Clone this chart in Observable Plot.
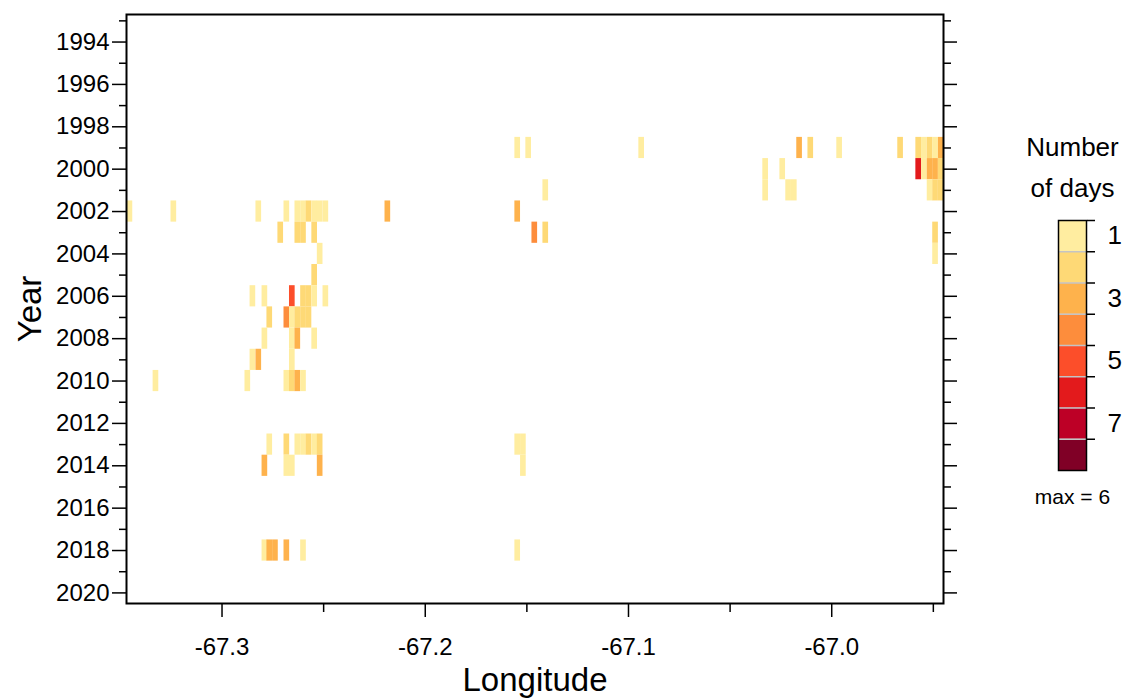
<!DOCTYPE html>
<html><head><meta charset="utf-8">
<script src="https://cdn.jsdelivr.net/npm/d3@7"></script>
<script src="https://cdn.jsdelivr.net/npm/@observablehq/plot@0.6"></script>
<style>
html,body{margin:0;padding:0;background:#fff;}
#wrap{position:relative;width:1124px;height:700px;}
#main{position:absolute;left:0;top:0;}
#legend{position:absolute;left:1000px;top:120px;}
</style></head>
<body><div id="wrap"><div id="main"></div><div id="legend"></div></div>
<script>
// ---- data ----
const yearTicks = [1994,1996,1998,2000,2002,2004,2006,2008,2010,2012,2014,2016,2018,2020];
const yearMinorTicks = [1993,1995,1997,1999,2001,2003,2005,2007,2009,2011,2013,2015,2017,2019];
const lonTicks = [-67.3,-67.2,-67.1,-67.0];
const lonMinorTicks = [-67.25,-67.15,-67.05,-66.95];
const binWidth = 0.00278; // longitude bin size (degrees)

const cellYear = [
  1999,1999,1999,1999,1999,1999,1999,1999,1999,1999,1999,1999,
  2000,2000,2000,2000,2000,2000,2000,
  2001,2001,2001,2001,2001,2001,2001,
  2002,2002,2002,2002,2002,2002,2002,2002,2002,2002,2002,2002,
  2003,2003,2003,2003,2003,2003,2003,
  2004,2004,
  2005,
  2006,2006,2006,2006,2006,2006,2006,
  2007,2007,2007,2007,2007,2007,
  2008,2008,2008,2008,
  2009,2009,2009,
  2010,2010,2010,2010,2010,2010,
  2013,2013,2013,2013,2013,2013,2013,2013,2013,
  2014,2014,2014,2014,2014,
  2018,2018,2018,2018,2018,2018
];
const cellLon = [
  -67.1559,-67.1505,-67.0949,-67.0172,-67.0117,-66.9975,-66.9675,-66.9586,-66.9558,-66.9530,-66.9503,-66.9475,
  -67.0339,-67.0255,-66.9586,-66.9558,-66.9530,-66.9503,-66.9475,
  -67.1421,-67.0339,-67.0226,-67.0198,-66.9530,-66.9503,-66.9475,
  -67.3467,-67.3251,-67.2833,-67.2695,-67.2641,-67.2613,-67.2586,-67.2558,-67.2531,-67.2503,-67.2198,-67.1559,
  -67.2725,-67.2641,-67.2613,-67.2558,-67.1475,-67.1421,-66.9503,
  -67.2531,-66.9503,
  -67.2558,
  -67.2862,-67.2803,-67.2668,-67.2613,-67.2586,-67.2558,-67.2503,
  -67.2779,-67.2695,-67.2668,-67.2641,-67.2613,-67.2586,
  -67.2803,-67.2668,-67.2641,-67.2558,
  -67.2862,-67.2833,-67.2668,
  -67.3339,-67.2887,-67.2695,-67.2668,-67.2641,-67.2613,
  -67.2779,-67.2695,-67.2641,-67.2613,-67.2586,-67.2558,-67.2531,-67.1559,-67.1531,
  -67.2803,-67.2695,-67.2668,-67.2531,-67.1531,
  -67.2803,-67.2779,-67.2751,-67.2695,-67.2613,-67.1559
];
const cellDays = [
  1,1,1,3,2,1,2,2,1,2,1,3,
  1,1,6,1,3,3,2,
  1,1,1,1,1,2,2,
  1,1,1,1,1,1,2,1,1,1,3,3,
  2,2,2,2,4,2,2,
  1,1,
  2,
  1,1,5,2,2,1,1,
  2,4,1,2,2,2,
  1,1,3,1,
  1,3,1,
  1,1,1,2,3,1,
  1,2,1,1,2,1,2,1,1,
  3,1,1,3,1,
  1,3,3,3,1,1
];

const dayLevels = [1,2,3,4,5,6,7,8];
const dayColors = ["#ffeda0","#fed976","#feb24c","#fd8d3c","#fc4e2a","#e31a1c","#bd0026","#800026"];
const dayLabels = [1,3,5,7];
const dayBoundaries = [0.5,1.5,2.5,3.5,4.5,5.5,6.5,7.5];
const dayInnerBoundaries = [1.5,2.5,3.5,4.5,5.5,6.5,7.5];
const legendTitle = ["Number","of days"];
const legendNote = "max = 6";

// ---- chart ----
const font = '"Liberation Sans", Arial, Helvetica, sans-serif';
const cells = cellYear.map((y, i) => ({year: y, lon: cellLon[i], days: cellDays[i]}));
const colorScale = {type: "ordinal", domain: dayLevels, range: dayColors};

const main = Plot.plot({
  width: 1124, height: 700,
  marginLeft: 126, marginRight: 181, marginTop: 14, marginBottom: 97,
  style: {fontFamily: font, background: "transparent", color: "#000"},
  x: {domain: [-67.347, -66.945], label: null},
  y: {domain: [1992.7, 2020.5], reverse: true, label: null},
  color: colorScale,
  marks: [
    Plot.rect(cells, {x1: "lon", x2: d => d.lon + binWidth, y1: d => d.year - 0.5, y2: d => d.year + 0.5, fill: "days", clip: true}),
    // left axis
    Plot.axisY({anchor: "left", ticks: yearTicks, tickSize: 14, strokeWidth: 1.5, fill: "none", label: null}),
    Plot.axisY({anchor: "left", ticks: yearTicks, tickSize: 0, tickPadding: 17, tickFormat: d => String(d), fontSize: 24, label: null}),
    Plot.axisY({anchor: "left", ticks: yearMinorTicks, tickSize: 7, strokeWidth: 1.5, fill: "none", label: null}),
    // right axis (ticks only)
    Plot.axisY({anchor: "right", ticks: yearTicks, tickSize: 13, strokeWidth: 1.5, fill: "none", label: null}),
    Plot.axisY({anchor: "right", ticks: yearMinorTicks, tickSize: 7, strokeWidth: 1.5, fill: "none", label: null}),
    // bottom axis
    Plot.axisX({anchor: "bottom", ticks: lonTicks, tickSize: 14, strokeWidth: 1.5, fill: "none", label: null}),
    Plot.axisX({anchor: "bottom", ticks: lonTicks, tickSize: 0, tickPadding: 34, tickFormat: d => d.toFixed(1), fontSize: 24, label: null}),
    Plot.axisX({anchor: "bottom", ticks: lonMinorTicks, tickSize: 9, strokeWidth: 1.5, fill: "none", label: null}),
    Plot.frame({stroke: "#000", strokeWidth: 2}),
    Plot.text(["Year"], {frameAnchor: "left", dx: -96, rotate: -90, textAnchor: "middle", lineAnchor: "middle", fontSize: 33}),
    Plot.text(["Longitude"], {frameAnchor: "bottom", dy: 77, textAnchor: "middle", lineAnchor: "middle", fontSize: 33})
  ]
});
document.getElementById("main").appendChild(main);

const legend = Plot.plot({
  width: 124, height: 400,
  marginLeft: 58, marginRight: 38, marginTop: 100, marginBottom: 50,
  style: {fontFamily: font, background: "transparent", color: "#000", overflow: "visible"},
  x: {domain: [0, 1], axis: null},
  y: {domain: [0.5, 8.5], reverse: true, axis: null},
  color: colorScale,
  marks: [
    Plot.rect(dayLevels, {x1: 0, x2: 1, y1: d => d - 0.5, y2: d => d + 0.5, fill: d => d}),
    Plot.ruleY(dayInnerBoundaries, {stroke: "#c4c4c4", strokeWidth: 1.5}),
    Plot.frame({stroke: "#000", strokeWidth: 1.5}),
    Plot.axisY({anchor: "right", ticks: dayBoundaries, tickSize: 8, strokeWidth: 1.5, fill: "none", label: null}),
    Plot.axisY({anchor: "right", ticks: dayLabels, tickSize: 0, tickPadding: 21, fontSize: 26, label: null}),
    Plot.text([legendTitle[0]], {frameAnchor: "top", dy: -73, textAnchor: "middle", lineAnchor: "middle", fontSize: 26}),
    Plot.text([legendTitle[1]], {frameAnchor: "top", dy: -32, textAnchor: "middle", lineAnchor: "middle", fontSize: 26}),
    Plot.text([legendNote], {frameAnchor: "bottom", dy: 27, textAnchor: "middle", lineAnchor: "middle", fontSize: 21})
  ]
});
document.getElementById("legend").appendChild(legend);
</script>
</body></html>
